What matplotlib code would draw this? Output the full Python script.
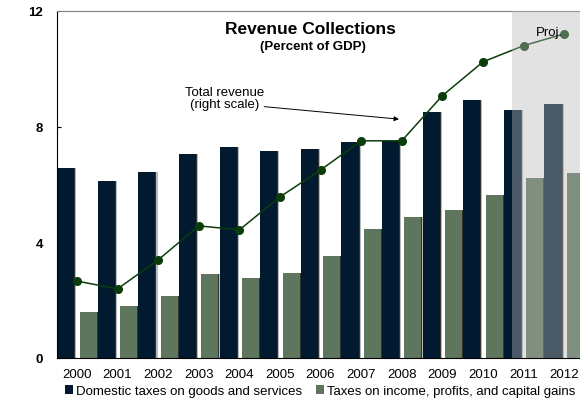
import matplotlib
matplotlib.use('Agg')
import matplotlib.pyplot as plt
import numpy as np

plt.rcParams['font.family'] = ['Liberation Sans', 'DejaVu Sans']

years = ['2000', '2001', '2002', '2003', '2004', '2005', '2006',
         '2007', '2008', '2009', '2010', '2011', '2012']
domestic_taxes = [6.57, 6.12, 6.44, 7.06, 7.30, 7.16, 7.23,
                  7.47, 7.51, 8.51, 8.93, 8.58, 8.79]
income_taxes = [1.59, 1.80, 2.15, 2.91, 2.77, 2.94, 3.53,
                4.46, 4.88, 5.12, 5.64, 6.23, 6.40]
# total revenue is on the (cut off) right scale, read here in left-axis units
total_revenue = [2.66, 2.39, 3.39, 4.57, 4.43, 5.57, 6.50,
                 7.51, 7.51, 9.07, 10.24, 10.80, 11.21]
y_ticks = [0, 4, 8, 12]
proj_start = 10.71

NAVY = '#021a30'
GREEN = '#5e755e'
LINE_GREEN = '#0b3d0b'

fig = plt.figure(figsize=(5.8, 4.06), dpi=100)
ax = fig.add_axes([0.0983, 0.1158, 0.9017, 0.8547])

x = np.arange(len(years))
width = 0.42
off = 0.275

# drop shadows behind bars
for shift, col in [(0.05, '#b8b8b8'), (0.025, '#333333')]:
    ax.bar(x - off + shift, domestic_taxes, width, color=col, zorder=1, linewidth=0)
    ax.bar(x + off + shift, income_taxes, width, color=col, zorder=1, linewidth=0)

ax.bar(x - off, domestic_taxes, width, color=NAVY, zorder=2, linewidth=0,
       label='Domestic taxes on goods and services')
ax.bar(x + off, income_taxes, width, color=GREEN, zorder=2, linewidth=0,
       label='Taxes on income, profits, and capital gains')

ax.plot(x, total_revenue, '-o', color=LINE_GREEN, linewidth=1.1,
        markersize=5.5, zorder=3)

# projection shading drawn over the marks
ax.axvspan(proj_start, 13, color='#b8b8b8', alpha=0.4, linewidth=0, zorder=4)
ax.text(11.63, 11.28, 'Proj.', ha='center', va='center', fontsize=9.5, zorder=6)

ax.set_xlim(-0.49, 12.39)
ax.set_ylim(0, 12)
ax.set_yticks(y_ticks)
ax.set_yticklabels([str(t) for t in y_ticks], fontweight='bold', fontsize=9.5)
ax.set_xticks(x)
ax.set_xticklabels(years, fontsize=9.5)
ax.tick_params(axis='x', length=0, pad=7)
ax.tick_params(axis='y', direction='in', length=3, pad=10)

ax.spines['right'].set_visible(False)
ax.spines['top'].set_color('#808080')
ax.spines['left'].set_color('black')
ax.spines['bottom'].set_color('black')

fig.text(0.536, 0.928, 'Revenue Collections', ha='center', va='center',
         fontsize=12.5, fontweight='bold')
fig.text(0.540, 0.884, '(Percent of GDP)', ha='center', va='center',
         fontsize=9.5, fontweight='bold')

ax.annotate('', xy=(8.0, 8.25), xytext=(4.55, 8.7),
            arrowprops=dict(arrowstyle='-|>', color='black', lw=0.7,
                            mutation_scale=7))
ax.text(3.65, 9.0, 'Total revenue\n(right scale)', ha='center', va='center',
        fontsize=9.5, linespacing=1.0)

leg = fig.legend(loc='center', bbox_to_anchor=(0.552, 0.0345), ncol=2,
                 frameon=False, fontsize=9.5, handlelength=0.6, handleheight=0.6,
                 handletextpad=0.25, columnspacing=1.05, borderaxespad=0)

fig.savefig('out.png', dpi=100)
